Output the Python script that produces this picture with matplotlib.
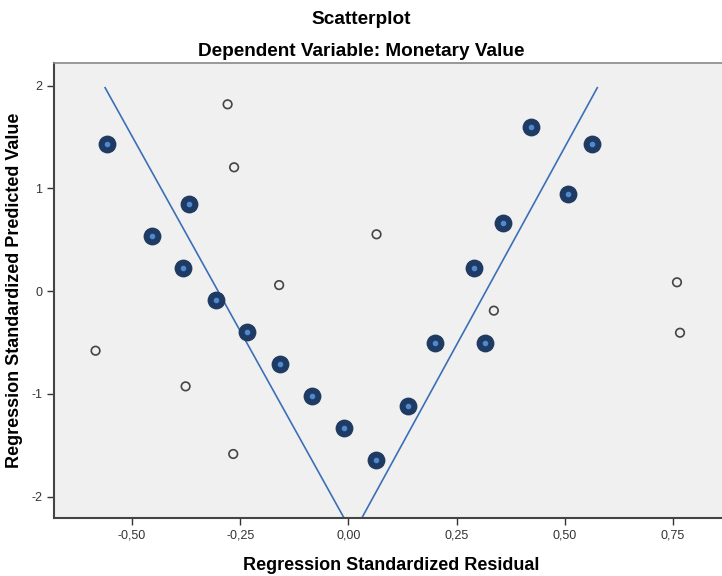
import matplotlib
matplotlib.use("Agg")
import matplotlib.pyplot as plt
from matplotlib.ticker import FuncFormatter

plt.rcParams['font.family'] = ['Liberation Sans', 'DejaVu Sans']

# fitted cases (filled markers)
resid_fit = [-0.558, -0.368, -0.454, -0.381, -0.306, -0.234, -0.158, -0.085, -0.010,
             0.063, 0.138, 0.199, 0.316, 0.291, 0.356, 0.421, 0.507, 0.563]
pred_fit = [1.428, 0.847, 0.535, 0.221, -0.088, -0.402, -0.714, -1.025, -1.333,
            -1.648, -1.116, -0.506, -0.506, 0.221, 0.662, 1.596, 0.947, 1.428]

# other cases (hollow markers)
resid_other = [-0.279, -0.264, -0.160, 0.065, 0.759, 0.336, 0.766, -0.584, -0.376, -0.266]
pred_other = [1.817, 1.204, 0.058, 0.552, 0.085, -0.191, -0.406, -0.581, -0.928, -1.586]

# V-shaped reference lines
left_line_x = [-0.562, -0.010]
left_line_y = [1.979, -2.209]
right_line_x = [0.575, 0.031]
right_line_y = [1.979, -2.209]

xticks = [-0.50, -0.25, 0.00, 0.25, 0.50, 0.75]
yticks = [-2, -1, 0, 1, 2]

fig = plt.figure(figsize=(7.22, 5.76), dpi=100)
ax = fig.add_axes([0.0748, 0.1007, 0.9252, 0.7899])
ax.set_facecolor('#f0f0f0')

line_col = '#3b6fb6'
ax.plot(left_line_x, left_line_y, color=line_col, lw=1.2, zorder=2)
ax.plot(right_line_x, right_line_y, color=line_col, lw=1.2, zorder=2)

ax.scatter(resid_other, pred_other, s=38, facecolors='none', edgecolors='#444444',
           linewidths=1.2, zorder=3)
ax.scatter(resid_fit, pred_fit, s=140, color='#1f3b63', zorder=4)
ax.scatter(resid_fit, pred_fit, s=9, color='#4d8ad0', zorder=5)

ax.set_xlim(-0.680, 0.863)
ax.set_ylim(-2.209, 2.219)
ax.set_xticks(xticks)
ax.set_yticks(yticks)
ax.xaxis.set_major_formatter(FuncFormatter(lambda v, p: ('%.2f' % v).replace('.', ',')))
ax.yaxis.set_major_formatter(FuncFormatter(lambda v, p: '%d' % v))
ax.tick_params(colors='#333333', labelsize=9, length=5, width=1.0)

for side in ['left', 'bottom']:
    ax.spines[side].set_color('#444444')
    ax.spines[side].set_linewidth(1.5)
ax.spines['top'].set_color('#888888')
ax.spines['top'].set_linewidth(1.2)
ax.spines['right'].set_visible(False)

ax.set_xlabel('Regression Standardized Residual', fontsize=13, fontweight='bold')
ax.xaxis.label.set_verticalalignment('center')
ax.xaxis.set_label_coords(391 / 722, 1 - 565 / 576, transform=fig.transFigure)
ax.set_ylabel('Regression Standardized Predicted Value', fontsize=13,
              fontweight='bold')
ax.yaxis.label.set_verticalalignment('center')
ax.yaxis.set_label_coords(15 / 722, 1 - 290 / 576, transform=fig.transFigure)

fig.text(0.5, 1 - 19 / 576, 'Scatterplot', ha='center', va='center',
         fontsize=13.7, fontweight='bold')
fig.text(0.5, 1 - 51 / 576, 'Dependent Variable: Monetary Value', ha='center',
         va='center', fontsize=13.7, fontweight='bold')

fig.savefig('out.png', dpi=100)
